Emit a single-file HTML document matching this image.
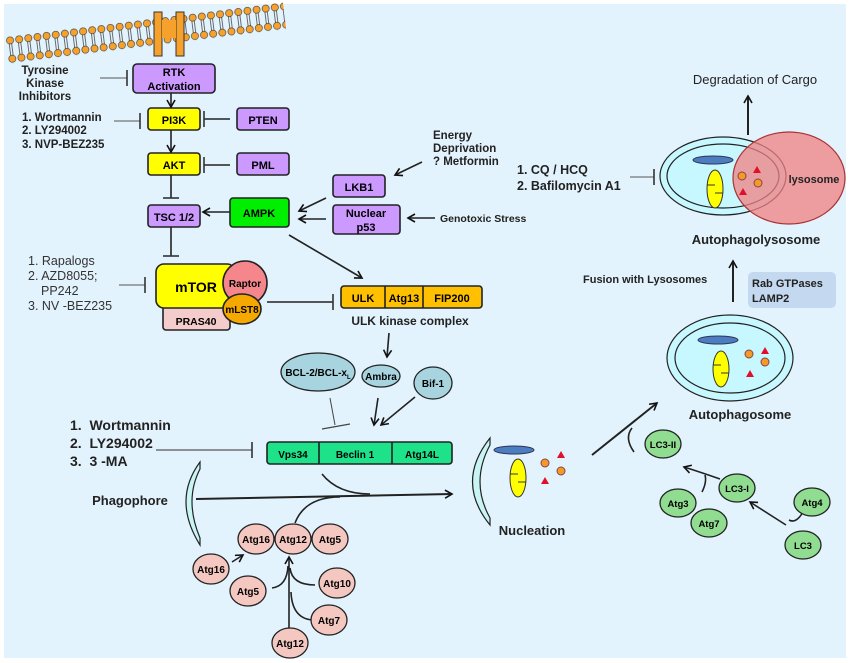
<!DOCTYPE html>
<html><head><meta charset="utf-8"><style>
html,body{margin:0;padding:0;background:#fff}
svg{display:block;font-family:"Liberation Sans",sans-serif}
</style></head><body>
<svg width="850" height="663" viewBox="0 0 850 663" xmlns="http://www.w3.org/2000/svg">
<defs>
<marker id="ar" markerWidth="10" markerHeight="10" refX="8" refY="5" orient="auto" markerUnits="userSpaceOnUse"><path d="M1,1 L8,5 L1,9" fill="none" stroke="#111" stroke-width="1.6"/></marker>
<marker id="tb" markerWidth="4" markerHeight="16" refX="2" refY="8" orient="auto" markerUnits="userSpaceOnUse"><line x1="2" y1="0" x2="2" y2="16" stroke="#333" stroke-width="1.6"/></marker>
<pattern id="mem" x="0" y="0" width="9.2" height="27" patternUnits="userSpaceOnUse">
<circle cx="4.6" cy="4" r="3.6" fill="#f5a12c" stroke="#333" stroke-width="0.6"/>
<circle cx="4.6" cy="22.5" r="3.6" fill="#f5a12c" stroke="#333" stroke-width="0.6"/>
<line x1="3.4" y1="7" x2="3.4" y2="19" stroke="#333" stroke-width="0.7"/>
<line x1="5.8" y1="7" x2="5.8" y2="19" stroke="#333" stroke-width="0.7"/>
</pattern>
</defs>
<rect x="4" y="4" width="842" height="654" fill="#e3f3fd"/>
<!-- membrane -->
<g transform="translate(5,37) rotate(-7.1)"><rect x="0" y="0" width="280" height="27" fill="url(#mem)"/></g>
<rect x="154" y="12" width="8" height="44" fill="#f5a12c" stroke="#333"/>
<rect x="176" y="12" width="8" height="44" fill="#f5a12c" stroke="#333"/>
<rect x="162" y="20" width="14" height="18" fill="#f5a12c"/>
<!-- left column -->
<g font-size="11.5" font-weight="bold" fill="#222">
<text x="45" y="74" text-anchor="middle">Tyrosine</text>
<text x="45" y="87" text-anchor="middle">Kinase</text>
<text x="45" y="100" text-anchor="middle">Inhibitors</text>
<text x="22" y="121">1. Wortmannin</text>
<text x="22" y="134">2. LY294002</text>
<text x="22" y="148">3. NVP-BEZ235</text>
<text x="433" y="139">Energy</text>
<text x="433" y="152">Deprivation</text>
<text x="433" y="165">? Metformin</text>
<text x="440" y="222" font-size="10.5">Genotoxic Stress</text>
</g>
<g font-size="12.5" fill="#333">
<text x="28" y="265">1. Rapalogs</text>
<text x="28" y="280">2. AZD8055;</text>
<text x="41" y="295">PP242</text>
<text x="28" y="310">3. NV -BEZ235</text>
</g>
<line x1="100" y1="78" x2="127" y2="78" stroke="#555" marker-end="url(#tb)"/>
<line x1="114" y1="121" x2="140" y2="121" stroke="#555" marker-end="url(#tb)"/>
<line x1="119" y1="285" x2="145" y2="285" stroke="#555" marker-end="url(#tb)"/>
<!-- boxes -->
<g stroke="#222" stroke-width="1.6" font-weight="bold" font-size="11" text-anchor="middle">
<rect x="133" y="64" width="82" height="29" rx="4" fill="#cc99ff"/>
<text x="174" y="76" stroke="none">RTK</text><text x="174" y="90" stroke="none">Activation</text>
<rect x="148" y="108" width="52" height="22" rx="3" fill="#ffff00"/><text x="174" y="124" stroke="none">PI3K</text>
<rect x="237" y="108" width="52" height="22" rx="3" fill="#cc99ff"/><text x="263" y="124" stroke="none">PTEN</text>
<rect x="148" y="153" width="52" height="22" rx="3" fill="#ffff00"/><text x="174" y="169" stroke="none">AKT</text>
<rect x="237" y="153" width="52" height="22" rx="3" fill="#cc99ff"/><text x="263" y="169" stroke="none">PML</text>
<rect x="148" y="205" width="52" height="22" rx="3" fill="#cc99ff"/><text x="174" y="221" stroke="none">TSC 1/2</text>
<rect x="230" y="198" width="59" height="29" rx="3" fill="#00ee00"/><text x="259" y="217" stroke="none">AMPK</text>
<rect x="333" y="175" width="52" height="22" rx="3" fill="#cc99ff"/><text x="359" y="191" stroke="none">LKB1</text>
<rect x="333" y="205" width="67" height="29" rx="3" fill="#cc99ff"/><text x="366" y="217" stroke="none">Nuclear</text><text x="366" y="231" stroke="none">p53</text>
<rect x="163" y="305" width="67" height="25" rx="3" fill="#f4cccc"/><text x="196" y="325" stroke="none" font-size="10.5">PRAS40</text>
<rect x="156" y="264" width="79" height="44" rx="8" fill="#ffff00"/><text x="196" y="292" stroke="none" font-size="14">mTOR</text>
<circle cx="245" cy="283" r="22" fill="#f4868c"/><text x="245" y="287" stroke="none" font-size="10">Raptor</text>
<ellipse cx="242" cy="309" rx="19" ry="15" fill="#f5a800"/><text x="242" y="313" stroke="none" font-size="10">mLST8</text>
<rect x="341" y="286" width="141" height="22" rx="3" fill="#ffc000"/>
<line x1="385" y1="286" x2="385" y2="308"/><line x1="423" y1="286" x2="423" y2="308"/>
<text x="363" y="302" stroke="none">ULK</text><text x="404" y="302" stroke="none">Atg13</text><text x="452" y="302" stroke="none">FIP200</text>
<rect x="267" y="442" width="185" height="22" rx="3" fill="#1de28a"/>
<line x1="319" y1="442" x2="319" y2="464"/><line x1="392" y1="442" x2="392" y2="464"/>
<text x="293" y="458" stroke="none" font-size="10">Vps34</text><text x="355" y="458" stroke="none" font-size="10">Beclin 1</text><text x="422" y="458" stroke="none" font-size="10">Atg14L</text>
</g>
<text x="410" y="325" font-size="12" font-weight="bold" text-anchor="middle" fill="#222">ULK kinase complex</text>
<!-- connectors -->
<g stroke="#222" stroke-width="1.6" fill="none">
<line x1="171" y1="93" x2="171" y2="107" marker-end="url(#ar)"/>
<line x1="171" y1="130" x2="171" y2="152" marker-end="url(#ar)"/>
<line x1="230" y1="119" x2="204" y2="119" marker-end="url(#tb)"/>
<line x1="230" y1="165" x2="204" y2="165" marker-end="url(#tb)"/>
<line x1="171" y1="175" x2="171" y2="198" marker-end="url(#tb)"/>
<line x1="171" y1="227" x2="171" y2="256" marker-end="url(#tb)"/>
<line x1="230" y1="212" x2="203" y2="212" marker-end="url(#ar)"/>
<line x1="326" y1="198" x2="299" y2="211" marker-end="url(#ar)"/>
<line x1="326" y1="219" x2="299" y2="219" marker-end="url(#ar)"/>
<line x1="422" y1="162" x2="395" y2="175" marker-end="url(#ar)"/>
<line x1="435" y1="218" x2="408" y2="218" marker-end="url(#ar)"/>
<line x1="289" y1="235" x2="362" y2="278" marker-end="url(#ar)"/>
<line x1="267" y1="302" x2="333" y2="302" marker-end="url(#tb)"/>
<line x1="389" y1="333" x2="387" y2="357" marker-end="url(#ar)"/>
<line x1="330" y1="398" x2="335" y2="425" stroke="#444" stroke-width="1"/>
<line x1="322" y1="429" x2="350" y2="424" stroke="#444" stroke-width="1.2"/>
<line x1="378" y1="398" x2="374" y2="425" marker-end="url(#ar)"/>
<line x1="415" y1="397" x2="381" y2="425" marker-end="url(#ar)"/>
<line x1="156" y1="450" x2="252" y2="450" stroke="#555" stroke-width="1.2" marker-end="url(#tb)"/>
<line x1="196" y1="499" x2="452" y2="494" stroke-width="2" marker-end="url(#ar)"/>
<path d="M322 474 Q338 494 370 494" stroke-width="1.6"/>
<path d="M295 523 Q305 497 340 497"/>
<line x1="289" y1="628" x2="289" y2="557" marker-end="url(#ar)"/>
<path d="M272 588 Q287 586 288 566"/>
<path d="M315 585 Q292 585 290 568"/>
<path d="M312 620 Q292 618 291 592"/>
<line x1="232" y1="562" x2="243" y2="555" marker-end="url(#ar)"/>
<line x1="592" y1="455" x2="657" y2="403" stroke-width="2" marker-end="url(#ar)"/>
<path d="M634 452 Q624 438 632 428"/>
<path d="M720 479 Q700 472 684 467" marker-end="url(#ar)"/>
<path d="M702 492 Q707 482 705 475"/>
<line x1="786" y1="525" x2="750" y2="502" marker-end="url(#ar)"/>
<path d="M789 520 Q796 524 803 512"/>
<line x1="733" y1="302" x2="733" y2="261" stroke-width="2" marker-end="url(#ar)"/>
<line x1="748" y1="135" x2="748" y2="96" stroke-width="2" marker-end="url(#ar)"/>
<line x1="630" y1="177" x2="654" y2="177" stroke="#555" stroke-width="1" marker-end="url(#tb)"/>
</g>
<!-- ovals -->
<g stroke="#222" stroke-width="1.3" font-weight="bold" font-size="10" text-anchor="middle">
<ellipse cx="318" cy="372" rx="37" ry="19" fill="#a8d4e0"/><text x="318" y="376" stroke="none">BCL-2/BCL-x<tspan font-size="6" dy="3">L</tspan></text>
<ellipse cx="381" cy="376" rx="19" ry="11" fill="#a8d4e0"/><text x="381" y="380" stroke="none">Ambra</text>
<ellipse cx="433" cy="383" rx="19" ry="16" fill="#a8d4e0"/><text x="433" y="387" stroke="none">Bif-1</text>
<g fill="#f4c8c0">
<ellipse cx="256" cy="539" rx="18" ry="15"/><ellipse cx="293" cy="539" rx="18" ry="15"/><ellipse cx="330" cy="539" rx="18" ry="15"/>
<ellipse cx="211" cy="569" rx="18" ry="15"/><ellipse cx="248" cy="591" rx="18" ry="15"/><ellipse cx="337" cy="583" rx="18" ry="15"/>
<ellipse cx="329" cy="620" rx="18" ry="15"/><ellipse cx="290" cy="643" rx="18" ry="15"/>
</g>
<g stroke="none">
<text x="256" y="543">Atg16</text><text x="293" y="543">Atg12</text><text x="330" y="543">Atg5</text>
<text x="211" y="573">Atg16</text><text x="248" y="595">Atg5</text><text x="337" y="587">Atg10</text>
<text x="329" y="624">Atg7</text><text x="290" y="647">Atg12</text>
</g>
<g fill="#90dc90">
<ellipse cx="663" cy="444" rx="18" ry="14"/><ellipse cx="678" cy="503" rx="18" ry="14"/><ellipse cx="709" cy="523" rx="18" ry="14"/>
<ellipse cx="737" cy="488" rx="18" ry="14"/><ellipse cx="812" cy="502" rx="18" ry="14"/><ellipse cx="803" cy="545" rx="18" ry="14"/>
</g>
<g stroke="none" font-size="9.5">
<text x="663" y="448">LC3-II</text><text x="678" y="507">Atg3</text><text x="709" y="527">Atg7</text>
<text x="737" y="492">LC3-I</text><text x="812" y="506">Atg4</text><text x="803" y="549">LC3</text>
</g>
</g>
<!-- Phagophore / nucleation arcs -->
<path d="M200 462 Q172 500 200 545 L200 538 Q184 500 200 469 Z" fill="#c8f4f4" stroke="#222" stroke-width="1.2"/>
<path d="M490 438 Q455 482 490 525 L490 518 Q470 482 490 445 Z" fill="#c8f4f4" stroke="#222" stroke-width="1.2"/>
<!-- nucleation contents -->
<ellipse cx="514" cy="450" rx="20" ry="4" fill="#4a7ec0" stroke="#335"/>
<ellipse cx="518" cy="478" rx="8" ry="19" fill="#ffff00" stroke="#333"/>
<line x1="510" y1="474" x2="518" y2="474" stroke="#333"/><line x1="518" y1="482" x2="526" y2="482" stroke="#333"/>
<circle cx="545" cy="463" r="4" fill="#f39a2a" stroke="#844"/><circle cx="561" cy="471" r="4" fill="#f39a2a" stroke="#844"/>
<path d="M561 451 L565 458 L557 458 Z M545 477 L549 484 L541 484 Z" fill="#e0102a"/>
<text x="532" y="535" text-anchor="middle" font-weight="bold" font-size="13" fill="#222">Nucleation</text>
<text x="130" y="505" text-anchor="middle" font-weight="bold" font-size="13" fill="#222">Phagophore</text>
<g font-weight="bold" font-size="14" fill="#222">
<text x="70" y="430">1.&#160;&#160;Wortmannin</text>
<text x="70" y="448">2.&#160;&#160;LY294002</text>
<text x="70" y="466">3.&#160;&#160;3 -MA</text>
</g>
<!-- autophagosome -->
<ellipse cx="730" cy="358" rx="63" ry="43" fill="#c8f8ff" stroke="#222" stroke-width="1.2"/>
<ellipse cx="730" cy="358" rx="55" ry="35" fill="none" stroke="#222" stroke-width="1.2"/>
<ellipse cx="718" cy="340" rx="20" ry="4" fill="#4a7ec0" stroke="#335"/>
<ellipse cx="721" cy="369" rx="8" ry="18" fill="#ffff00" stroke="#333"/>
<line x1="713" y1="365" x2="721" y2="365" stroke="#333"/><line x1="721" y1="373" x2="729" y2="373" stroke="#333"/>
<circle cx="749" cy="354" r="4" fill="#f39a2a" stroke="#844"/><circle cx="765" cy="362" r="4" fill="#f39a2a" stroke="#844"/>
<path d="M765 347 L769 354 L761 354 Z M750 370 L754 377 L746 377 Z" fill="#e0102a"/>
<text x="740" y="419" text-anchor="middle" font-weight="bold" font-size="13" fill="#222">Autophagosome</text>
<!-- autophagolysosome -->
<ellipse cx="723" cy="176" rx="63" ry="39" fill="#c8f8ff" stroke="#222" stroke-width="1.2"/>
<ellipse cx="723" cy="176" rx="56" ry="32" fill="none" stroke="#222" stroke-width="1.2"/>
<ellipse cx="713" cy="160" rx="20" ry="4" fill="#4a7ec0" stroke="#335"/>
<ellipse cx="715" cy="189" rx="8" ry="19" fill="#ffff00" stroke="#333"/>
<line x1="707" y1="185" x2="715" y2="185" stroke="#333"/><line x1="715" y1="193" x2="723" y2="193" stroke="#333"/>
<ellipse cx="789" cy="178" rx="56" ry="46" fill="#f08080" fill-opacity="0.75" stroke="#a33" stroke-width="1.2"/>
<circle cx="742" cy="176" r="4" fill="#f39a2a" stroke="#844"/><circle cx="758" cy="183" r="4" fill="#f39a2a" stroke="#844"/>
<path d="M757 166 L761 173 L753 173 Z M743 188 L747 195 L739 195 Z" fill="#e0102a"/>
<text x="814" y="183" text-anchor="middle" font-weight="bold" font-size="11" fill="#222">lysosome</text>
<text x="755" y="84" text-anchor="middle" font-size="13" fill="#222">Degradation of Cargo</text>
<text x="756" y="244" text-anchor="middle" font-weight="bold" font-size="13" fill="#222">Autophagolysosome</text>
<g font-weight="bold" font-size="12.5" fill="#222"><text x="517" y="174">1. CQ / HCQ</text><text x="517" y="190">2. Bafilomycin A1</text></g>
<text x="583" y="283" font-weight="bold" font-size="11" fill="#222">Fusion with Lysosomes</text>
<rect x="748" y="272" width="88" height="36" rx="5" fill="#c4d8f0"/>
<g font-weight="bold" font-size="11" fill="#222"><text x="752" y="287">Rab GTPases</text><text x="752" y="302">LAMP2</text></g>
</svg>
</body></html>
